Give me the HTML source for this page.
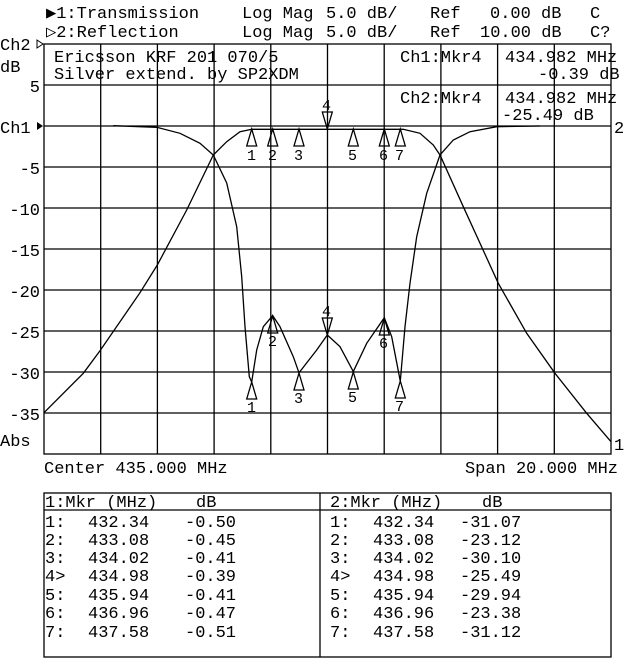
<!DOCTYPE html>
<html><head><meta charset="utf-8"><style>
html,body{margin:0;padding:0;background:#fff;}
svg{display:block}
text{font-family:"Liberation Mono",monospace;font-size:17px;fill:#000;}
</style></head><body>
<svg width="640" height="659" viewBox="0 0 640 659" xmlns="http://www.w3.org/2000/svg">
<g stroke="#000" stroke-width="1.3" fill="none">
<rect x="44" y="44" width="567" height="410"/>
<path d="M100.7 44V454M157.4 44V454M214.1 44V454M270.8 44V454M327.5 44V454M384.2 44V454M440.9 44V454M497.6 44V454M554.3 44V454
M44 85H611M44 126H611M44 167H611M44 208H611M44 249H611M44 290H611M44 331H611M44 372H611M44 413H611"/>
<!-- Ch1 transmission -->
<path d="M44 412.7L83.3 373.3L100 350.7L140 292.7L157.3 265L186.7 210L213.3 155L226.7 141.7L240 131.7L251.7 129.3L403.3 129.3L420 133.3L433.3 145L440 155L463.3 206.7L498.3 283.3L526.7 333.3L555 373.3L586.7 413.3L611 441.7"/>
<!-- Ch2 reflection -->
<path d="M113.3 125.7L156.7 127.3L180 133.3L200 143.3L213.3 155L226.7 183L236.7 226.7L241.7 276.7L245 326.7L249.3 376.7L251.7 382L256.7 350L263.3 326.7L272.7 315.6L280 326.7L293.3 356.7L299 372.8L316.7 350L327.3 335L340 346.7L353.3 371.5L366.7 343.3L384.3 317.7L391.7 336.7L400.3 381.2L405 326.7L410 283.3L416.7 236.7L426.7 193.3L440 155L453.3 140L470 131.7L496.7 126.7L540 126"/>
<!-- markers ch1 -->
<path d="M251.7 129L246.7 146H256.7Z M272.7 129L267.7 146H277.7Z M299 129L294 146H304Z M353.3 129L348.3 146H358.3Z M384.3 129L379.3 146H389.3Z M400.3 129L395.3 146H405.3Z M327.3 129L322.3 112H332.3Z"/>
<!-- markers ch2 -->
<path d="M251.7 382L246.7 399H256.7Z M272.7 316L267.7 333H277.7Z M299 373L294 390H304Z M353.3 372L348.3 389H358.3Z M384.3 318L379.3 335H389.3Z M400.3 381L395.3 398H405.3Z M327.3 335L322.3 318H332.3Z"/>
<!-- table -->
<rect x="44" y="493" width="567" height="164"/>
<path d="M320 493V657M44 510H611"/>
</g>
<path d="M37 40L43 44L37 48Z" fill="none" stroke="#000"/>
<path d="M37 122L43 126L37 130Z" fill="#000"/>
<g font-size="15">
<text x="247" y="160" style="font-size:15px">1</text><text x="268" y="160" style="font-size:15px">2</text><text x="294" y="160" style="font-size:15px">3</text><text x="348" y="160" style="font-size:15px">5</text><text x="379" y="160" style="font-size:15px">6</text><text x="395" y="160" style="font-size:15px">7</text>
<text x="322" y="110" style="font-size:15px">4</text>
<text x="247" y="412" style="font-size:15px">1</text><text x="268" y="346" style="font-size:15px">2</text><text x="294" y="403" style="font-size:15px">3</text><text x="322" y="316" style="font-size:15px">4</text><text x="348" y="402" style="font-size:15px">5</text><text x="379" y="348" style="font-size:15px">6</text><text x="395" y="411" style="font-size:15px">7</text>
</g>
<text x="46" y="18">▶1:Transmission</text>
<text x="242" y="18">Log Mag</text><text x="326" y="18">5.0 dB/</text><text x="430" y="18">Ref</text><text x="490" y="18">0.00 dB</text><text x="590" y="18">C</text>
<text x="46" y="37">▷2:Reflection</text>
<text x="242" y="37">Log Mag</text><text x="326" y="37">5.0 dB/</text><text x="430" y="37">Ref</text><text x="480" y="37">10.00 dB</text><text x="590" y="37">C?</text>
<text x="0" y="50">Ch2</text><text x="0" y="72">dB</text>
<text x="0" y="133">Ch1</text><text x="0" y="446">Abs</text>
<g text-anchor="end">
<text x="40" y="92">5</text><text x="40" y="174">-5</text><text x="40" y="215">-10</text><text x="40" y="256">-15</text><text x="40" y="297">-20</text><text x="40" y="338">-25</text><text x="40" y="379">-30</text><text x="40" y="420">-35</text>
</g>
<text x="614" y="133">2</text><text x="614" y="450">1</text>
<text x="54" y="62">Ericsson KRF 201 070/5</text>
<text x="54" y="79">Silver extend. by SP2XDM</text>
<text x="400" y="62">Ch1:Mkr4</text><text x="505" y="62">434.982 MHz</text><text x="538" y="79">-0.39 dB</text>
<text x="400" y="103">Ch2:Mkr4</text><text x="505" y="103">434.982 MHz</text><text x="502" y="120">-25.49 dB</text>
<text x="44" y="473">Center 435.000 MHz</text>
<text x="618" y="473" text-anchor="end">Span 20.000 MHz</text>
<text x="45" y="507">1:Mkr (MHz)</text><text x="196" y="507">dB</text>
<text x="330" y="507">2:Mkr (MHz)</text><text x="482" y="507">dB</text>
<g>
<text x="45" y="527">1:</text><text x="88" y="527">432.34</text><text x="185" y="527">-0.50</text>
<text x="45" y="545">2:</text><text x="88" y="545">433.08</text><text x="185" y="545">-0.45</text>
<text x="45" y="563">3:</text><text x="88" y="563">434.02</text><text x="185" y="563">-0.41</text>
<text x="45" y="581">4&gt;</text><text x="88" y="581">434.98</text><text x="185" y="581">-0.39</text>
<text x="45" y="600">5:</text><text x="88" y="600">435.94</text><text x="185" y="600">-0.41</text>
<text x="45" y="618">6:</text><text x="88" y="618">436.96</text><text x="185" y="618">-0.47</text>
<text x="45" y="637">7:</text><text x="88" y="637">437.58</text><text x="185" y="637">-0.51</text>
<text x="330" y="527">1:</text><text x="373" y="527">432.34</text><text x="460" y="527">-31.07</text>
<text x="330" y="545">2:</text><text x="373" y="545">433.08</text><text x="460" y="545">-23.12</text>
<text x="330" y="563">3:</text><text x="373" y="563">434.02</text><text x="460" y="563">-30.10</text>
<text x="330" y="581">4&gt;</text><text x="373" y="581">434.98</text><text x="460" y="581">-25.49</text>
<text x="330" y="600">5:</text><text x="373" y="600">435.94</text><text x="460" y="600">-29.94</text>
<text x="330" y="618">6:</text><text x="373" y="618">436.96</text><text x="460" y="618">-23.38</text>
<text x="330" y="637">7:</text><text x="373" y="637">437.58</text><text x="460" y="637">-31.12</text>
</g>
</svg>
</body></html>
